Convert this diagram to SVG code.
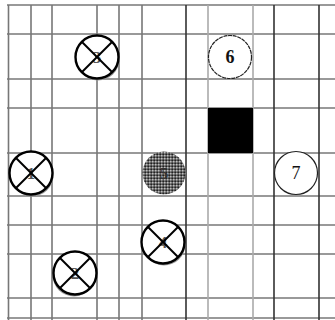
<svg xmlns="http://www.w3.org/2000/svg" width="335" height="320" viewBox="0 0 335 320">
<style>
.h{stroke:#999;stroke-width:2}
.vm{stroke:#777;stroke-width:1.6}
.vl{stroke:#aaa;stroke-width:1.6}
.vd{stroke:#333;stroke-width:1.6}
.xc{fill:#fff;stroke:#000;stroke-width:2.4}
.xl{stroke:#000;stroke-width:2}
.sh{fill:#999}
.lbx{font-family:"Liberation Serif",serif;font-weight:bold;font-size:17px;fill:#555;text-anchor:middle}
.lb{font-family:"Liberation Serif",serif;font-size:18px;fill:#111;text-anchor:middle}
.oc{fill:#fff;stroke:#222;stroke-width:1.2}
</style>
<defs>
<pattern id="stip" width="3" height="3" patternUnits="userSpaceOnUse">
<rect width="3" height="3" fill="#666"/>
<circle cx="0.8" cy="0.8" r="0.7" fill="#ddd"/>
<circle cx="2.2" cy="2.2" r="0.8" fill="#111"/>
</pattern>
<g id="xmark">
<line x1="-15.5" y1="-15.5" x2="15.5" y2="15.5" class="xl"/>
<line x1="15.5" y1="-15.5" x2="-15.5" y2="15.5" class="xl"/>
</g>
</defs>
<rect width="335" height="320" fill="#fff"/>
<g id="grid">
<line x1="7" y1="5" x2="335" y2="5" class="h"/>
<line x1="7" y1="34" x2="335" y2="34" class="h"/>
<line x1="7" y1="79" x2="335" y2="79" class="h"/>
<line x1="7" y1="108" x2="335" y2="108" class="h"/>
<line x1="7" y1="153" x2="335" y2="153" class="h"/>
<line x1="7" y1="196" x2="335" y2="196" class="h"/>
<line x1="7" y1="225" x2="335" y2="225" class="h"/>
<line x1="7" y1="254" x2="335" y2="254" class="h"/>
<line x1="7" y1="298" x2="335" y2="298" class="h"/>
<line x1="7" y1="318" x2="335" y2="318" class="h"/>
<line x1="8.5" y1="5" x2="8.5" y2="320" class="vm"/>
<line x1="31" y1="5" x2="31" y2="320" class="vm"/>
<line x1="52" y1="5" x2="52" y2="320" class="vm"/>
<line x1="97" y1="5" x2="97" y2="320" class="vm"/>
<line x1="119" y1="5" x2="119" y2="320" class="vm"/>
<line x1="142" y1="5" x2="142" y2="320" class="vm"/>
<line x1="186" y1="5" x2="186" y2="320" class="vd"/>
<line x1="208" y1="5" x2="208" y2="320" class="vl"/>
<line x1="253" y1="5" x2="253" y2="320" class="vl"/>
<line x1="274" y1="5" x2="274" y2="320" class="vd"/>
<line x1="319" y1="5" x2="319" y2="320" class="vd"/>
</g>
<g id="block"><rect x="208" y="108" width="45" height="45" fill="#000"/></g>
<g id="node3" transform="translate(97,57)">
<circle cx="1" cy="2" r="21.5" class="sh"/>
<circle r="21.5" class="xc"/>
<text y="6" class="lbx">3</text>
<use href="#xmark"/>
</g>
<g id="node6" transform="translate(230,57)">
<circle r="21.5" class="oc" stroke-dasharray="4 0.7"/>
<text y="6" class="lb" font-weight="bold">6</text>
</g>
<g id="node1" transform="translate(31,173)">
<circle cx="1" cy="2" r="21.5" class="sh"/>
<circle r="21.5" class="xc"/>
<text y="6" class="lbx">1</text>
<use href="#xmark"/>
</g>
<g id="node5" transform="translate(164,173)">
<circle r="21.5" fill="url(#stip)"/>
<text y="6" class="lbx" style="fill:#333">5</text>
</g>
<g id="node7" transform="translate(296,173)">
<circle r="21.5" class="oc"/>
<text y="6" class="lb">7</text>
</g>
<g id="node4" transform="translate(163,242)">
<circle cx="1" cy="2" r="21.5" class="sh"/>
<circle r="21.5" class="xc"/>
<text y="6" class="lbx">4</text>
<use href="#xmark"/>
</g>
<g id="node2" transform="translate(75,273)">
<circle cx="-1" cy="2" r="21.5" class="sh"/>
<circle r="21.5" class="xc"/>
<text y="6" class="lbx">2</text>
<use href="#xmark"/>
</g>
</svg>
